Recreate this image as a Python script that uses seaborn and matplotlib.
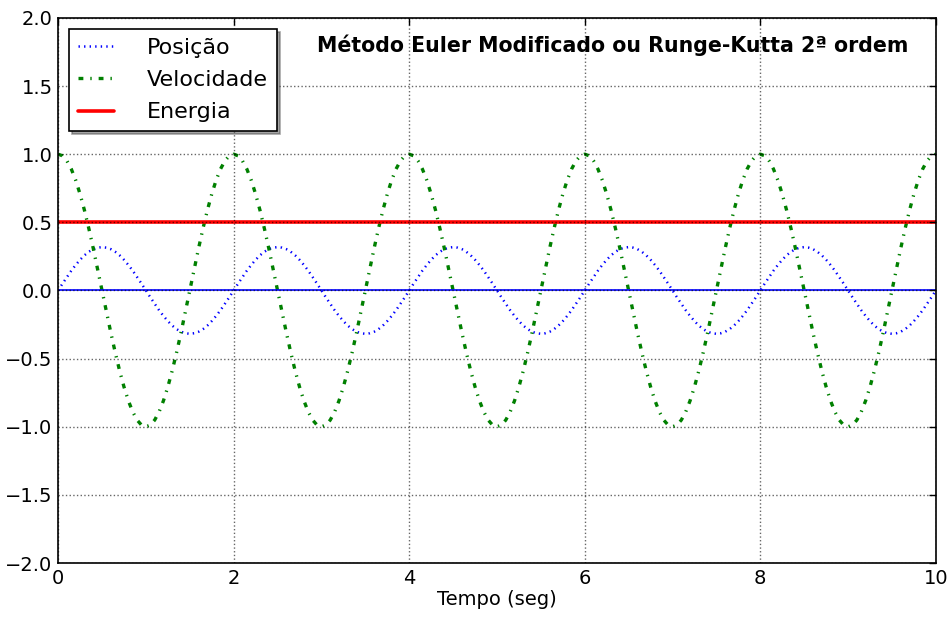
import numpy as np
import pandas as pd
import matplotlib
matplotlib.use("Agg")
import matplotlib.pyplot as plt
import seaborn as sns

# --- Data: one period (2 s) sampled every 0.05 s, repeated over 10 s ---
pos_period = [0, .050, .098, .145, .187, .225, .258, .284, .303, .314,
              .318, .314, .303, .284, .258, .225, .187, .145, .098, .050,
              0, -.050, -.098, -.145, -.187, -.225, -.258, -.284, -.303, -.314,
              -.318, -.314, -.303, -.284, -.258, -.225, -.187, -.145, -.098, -.050]
vel_period = [1, .988, .951, .891, .809, .707, .588, .454, .309, .156,
              0, -.156, -.309, -.454, -.588, -.707, -.809, -.891, -.951, -.988,
              -1, -.988, -.951, -.891, -.809, -.707, -.588, -.454, -.309, -.156,
              0, .156, .309, .454, .588, .707, .809, .891, .951, .988]
n_periods = 5
posicao = pos_period * n_periods + [0.0]
velocidade = vel_period * n_periods + [1.0]
tempo = np.linspace(0, 10, len(posicao))
energia = [0.5] * len(posicao)
zero_line = [0.0] * len(posicao)

x_ticks = [0, 2, 4, 6, 8, 10]
y_ticks = [-2.0, -1.5, -1.0, -0.5, 0.0, 0.5, 1.0, 1.5, 2.0]
title = "Método Euler Modificado ou Runge-Kutta 2ª ordem"

df = pd.DataFrame({"t": tempo, "pos": posicao, "vel": velocidade,
                   "en": energia, "zero": zero_line})

sns.set_style("white")
plt.rcParams["font.family"] = ["DejaVu Sans"]
plt.rcParams["axes.axisbelow"] = False
plt.rcParams["lines.scale_dashes"] = False
plt.rcParams["text.color"] = "black"
plt.rcParams["axes.labelcolor"] = "black"

fig = plt.figure(figsize=(9.53, 6.17), dpi=100)
ax = fig.add_axes([0.061, 0.0875, 0.921, 0.8835])

# --- Curves (classic dash patterns) ---
sns.lineplot(data=df, x="t", y="pos", ax=ax, color="blue",
             linewidth=1.8, label="Posição").lines[-1].set_dashes((1, 3))
sns.lineplot(data=df, x="t", y="vel", ax=ax, color="green",
             linewidth=2.4, label="Velocidade").lines[-1].set_dashes((3.5, 5, 1, 5))
sns.lineplot(data=df, x="t", y="en", ax=ax, color="red", linestyle="-",
             linewidth=2.6, label="Energia")
sns.lineplot(data=df, x="t", y="zero", ax=ax, color="blue", linestyle="-",
             linewidth=1.2, legend=False)

# --- Axes styling (classic look) ---
ax.set_xlim(0, 10)
ax.set_ylim(-2, 2)
ax.set_xticks(x_ticks)
ax.set_yticks(y_ticks)
ax.set_xticklabels([str(v) for v in x_ticks])
ax.set_yticklabels(["\u2212" + f"{abs(v):.1f}" if v < 0 else f"{v:.1f}" for v in y_ticks])
ax.tick_params(direction="in", length=5, width=1, top=True, right=True,
               labelsize=14, colors="black", pad=4)
for s in ax.spines.values():
    s.set_color("black")
    s.set_linewidth(1.2)
ax.grid(True, color="black", linestyle=":", linewidth=1, alpha=0.6)
ax.set_xlabel("Tempo (seg)", fontsize=14, labelpad=2)
ax.set_ylabel("")

ax.text(0.969, 0.949, title, transform=ax.transAxes, ha="right", va="center",
        fontsize=14.8, fontweight="bold")

leg = ax.legend(loc="upper left", fontsize=16, borderaxespad=0.5,
                frameon=True, fancybox=False, shadow=True, framealpha=1,
                edgecolor="black", handlelength=1.6, borderpad=0.4,
                labelspacing=0.55, handletextpad=1.5)
leg.get_frame().set_linewidth(1.2)

plt.savefig("out.png", dpi=100)
